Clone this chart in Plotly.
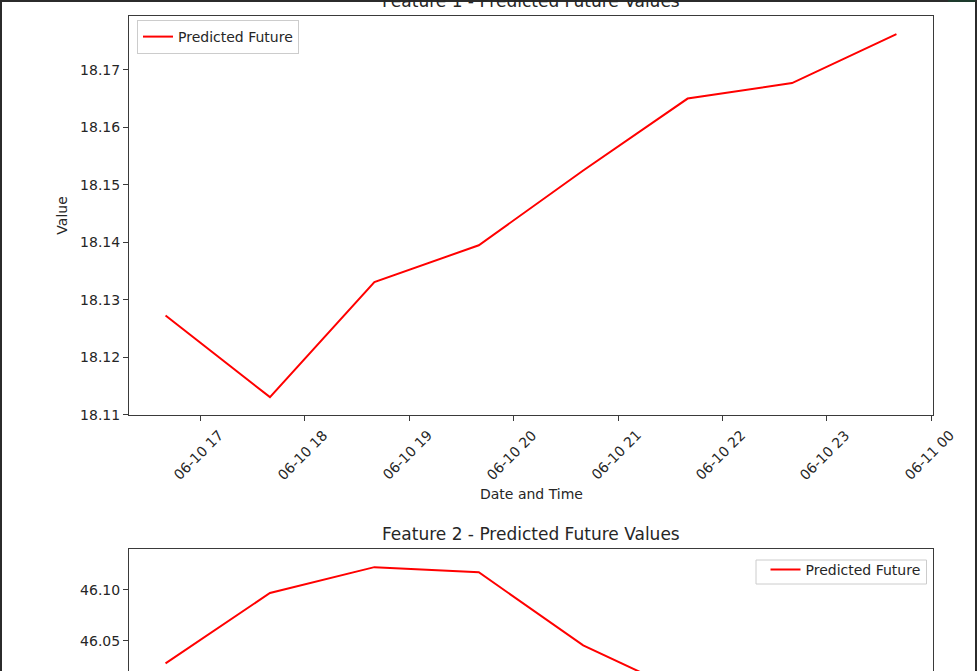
import pandas as pd
import plotly.graph_objects as go

# ---------------- data ----------------
times = pd.date_range("2024-06-10 16:40", periods=8, freq="h")
feature1 = [18.1273, 18.1131, 18.1331, 18.1395, 18.1525, 18.1650, 18.1677, 18.1762]
feature2 = [46.0281, 46.0968, 46.1220, 46.1170, 46.0458, 45.9980, 45.8800, 45.7680]
tick_times = pd.date_range("2024-06-10 17:00", periods=8, freq="h")
tick_labels = ["06-10 17", "06-10 18", "06-10 19", "06-10 20",
               "06-10 21", "06-10 22", "06-10 23", "06-11 00"]
y1_ticks = [18.11, 18.12, 18.13, 18.14, 18.15, 18.16, 18.17]
y2_ticks = [46.00, 46.05, 46.10]
titles = ["Feature 1 - Predicted Future Values", "Feature 2 - Predicted Future Values"]
series_name = "Predicted Future"

# ---------------- layout geometry (pixels) ----------------
W, H = 977, 671
ML, MR, MT, MB = 129, 44, 16, 0
plot_h = H - MT - MB
ax1_bottom_px = 415.3
ax2_top_px = 549
dom1 = [(H - ax1_bottom_px) / plot_h, 1.0]
dom2 = [0.0, (H - ax2_top_px) / plot_h]

FONT = "DejaVu Sans"
TXT = "#262626"
AX = "#3a3a3a"

# matplotlib-like 5% margins
span_t = times[-1] - times[0]
xr = [times[0] - 0.05 * span_t, times[-1] + 0.05 * span_t]
s1 = max(feature1) - min(feature1)
yr1 = [min(feature1) - 0.05 * s1, max(feature1) + 0.05 * s1]
s2 = max(feature2) - min(feature2)
full2 = [min(feature2) - 0.05 * s2, max(feature2) + 0.05 * s2]
ax1_h = ax1_bottom_px - MT
vis_frac = (H - ax2_top_px) / ax1_h
yr2 = [full2[1] - vis_frac * (full2[1] - full2[0]), full2[1]]

fig = go.Figure()
fig.add_trace(go.Scatter(x=times, y=feature1, mode="lines", name=series_name,
                         line=dict(color="#ff0000", width=2),
                         xaxis="x", yaxis="y", legend="legend"))
fig.add_trace(go.Scatter(x=times, y=feature2, mode="lines", name=series_name,
                         line=dict(color="#ff0000", width=2),
                         xaxis="x2", yaxis="y2", legend="legend2"))

axis_common = dict(showgrid=False, zeroline=False, linecolor=AX, linewidth=1,
                   tickcolor=AX, ticklen=5, tickwidth=1, ticks="outside",
                   automargin=False,
                   tickfont=dict(family=FONT, size=14, color=TXT))

annotations = []
for tt, lab in zip(tick_times, tick_labels):
    annotations.append(dict(x=tt, y=0, xref="x", yref="y domain", text=lab,
                            showarrow=False, textangle=-45, xanchor="center",
                            yanchor="top", yshift=-9, xshift=-2,
                            font=dict(family=FONT, size=14, color=TXT)))

fig.update_layout(
    width=W, height=H, autosize=False,
    margin=dict(l=ML, r=MR, t=MT, b=MB, autoexpand=False),
    paper_bgcolor="white", plot_bgcolor="white",
    xaxis=dict(**axis_common, domain=[0, 1], anchor="y", range=xr,
               tickvals=tick_times, showticklabels=False, mirror=True, showline=True),
    yaxis=dict(**axis_common, domain=dom1, anchor="x", range=yr1,
               tickvals=y1_ticks, tickformat=".2f", mirror=True, showline=True),
    xaxis2=dict(showgrid=False, zeroline=False, domain=[0, 1], anchor="y2",
                range=xr, side="top", showline=True, linecolor=AX, linewidth=1,
                showticklabels=False, ticks="", automargin=False),
    yaxis2=dict(**axis_common, domain=dom2, anchor="x2", range=yr2,
                tickvals=y2_ticks, tickformat=".2f", mirror=True, showline=True),
    legend=dict(x=(137 - ML) / (W - ML - MR), y=(H - 20) / plot_h,
                xanchor="left", yanchor="top", bgcolor="white",
                bordercolor="#cccccc", borderwidth=1,
                font=dict(family=FONT, size=14, color=TXT)),
    legend2=dict(x=(926.5 - ML) / (W - ML - MR), y=(H - 553) / plot_h,
                 xanchor="right", yanchor="top", bgcolor="rgba(0,0,0,0)",
                 bordercolor="rgba(0,0,0,0)", borderwidth=1,
                 font=dict(family=FONT, size=14, color=TXT)),
    showlegend=True,
)

annotations += [
    dict(text=titles[0], x=0.5, y=1, xref="x domain", yref="y domain",
         yshift=15, xanchor="center", yanchor="middle", showarrow=False,
         font=dict(family=FONT, size=17, color=TXT)),
    dict(text=titles[1], x=0.5, y=1, xref="x2 domain", yref="y2 domain",
         yshift=15, xanchor="center", yanchor="middle", showarrow=False,
         font=dict(family=FONT, size=17, color=TXT)),
    dict(text="Value", x=(62 - ML) / (W - ML - MR), y=0.5, xref="paper",
         yref="y domain", textangle=-90, xanchor="center", yanchor="middle",
         showarrow=False, font=dict(family=FONT, size=14, color=TXT)),
    dict(text="Date and Time", x=0.5, y=(H - 494) / plot_h, xref="paper",
         yref="paper", xanchor="center", yanchor="middle", showarrow=False,
         font=dict(family=FONT, size=14, color=TXT)),
]
fig.update_layout(annotations=annotations)

# screenshot frame (dark borders of the captured notebook cell) and the
# second legend's frame (matches the reference box size)
def px_x(p):
    return (p - ML) / (W - ML - MR)

def px_y(p):
    return (H - MB - p) / plot_h

fig.add_shape(type="rect", xref="paper", yref="paper",
              x0=px_x(756), x1=px_x(926.5), y0=px_y(584), y1=px_y(560),
              fillcolor="white", line=dict(color="#cccccc", width=1), layer="below")

frame = [
    (0, 0, 948, 2, "#2b2b2b"),
    (948, 0, W, 2, "#1d3a2c"),
    (0, 0, 2, H, "#2b2b2b"),
    (975, 0, W, H, "#2b2b2b"),
]
for x0, y0, x1, y1, c in frame:
    fig.add_shape(type="rect", xref="paper", yref="paper",
                  x0=px_x(x0), x1=px_x(x1), y0=px_y(y1), y1=px_y(y0),
                  fillcolor=c, line=dict(width=0), layer="above")

fig.write_html(
    "out.html",
    config={"displayModeBar": False, "responsive": False},
    post_script="document.body.style.margin='0';document.body.style.overflow='hidden';",
)
